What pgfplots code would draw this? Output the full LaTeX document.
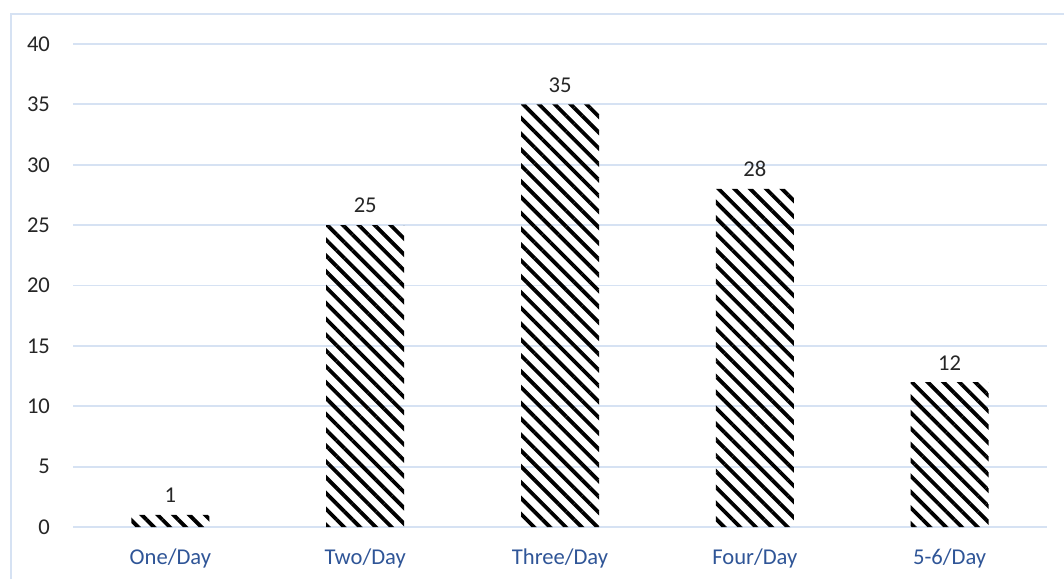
\documentclass[border=0pt]{standalone}
\usepackage{fontspec}
\setmainfont{Carlito}
\usepackage{pgfplots}
\pgfplotsset{compat=1.18}
\usetikzlibrary{patterns.meta}

\definecolor{gridblue}{RGB}{214,226,243}
\definecolor{catblue}{RGB}{47,85,151}
\definecolor{numgray}{RGB}{38,38,38}

\begin{document}
\begin{tikzpicture}
\begin{axis}[
  at={(36.5pt,26pt)}, anchor=south west,
  scale only axis,
  width=487pt, height=241.5pt,
  xmin=-0.5, xmax=4.5,
  ymin=0, ymax=40,
  ytick={0,5,...,40},
  xtick=data,
  xticklabels={One/Day,Two/Day,Three/Day,Four/Day,5-6/Day},
  axis line style={draw=none},
  major tick length=0pt,
  ymajorgrids,
  grid style={gridblue, line width=0.9pt},
  /pgf/number format/assume math mode=true,
  yticklabel style={font=\fontsize{11.3}{13}\selectfont, text=numgray, xshift=-8pt},
  xticklabel style={font=\fontsize{11.3}{13}\selectfont, text=catblue, yshift=-7.5pt},
  ybar,
  bar width=39pt,
  nodes near coords,
  every node near coord/.append style={font=\fontsize{11.3}{13}\selectfont, text=numgray, yshift=2.5pt},
  /pgf/number format/fixed,
]
\addplot[draw=none,
  pattern={Lines[angle=-45, distance=5.6pt, line width=1.9pt]},
  pattern color=black]
  coordinates {(0,1) (1,25) (2,35) (3,28) (4,12)};
\end{axis}
% chart frame: top and left edges
\draw[gridblue, line width=1pt] (5.5pt,0pt) -- (5.5pt,282.5pt) -- (532pt,282.5pt);
\pgfresetboundingbox
\useasboundingbox (0,0) rectangle (532pt,289.5pt);
\end{tikzpicture}
\end{document}
